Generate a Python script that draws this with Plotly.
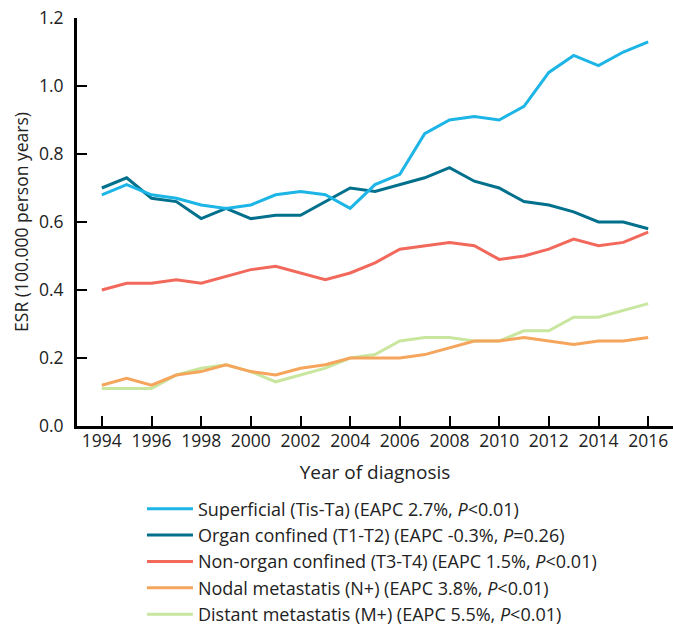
import plotly.graph_objects as go

years = list(range(1994, 2017))
superficial = [0.68, 0.71, 0.68, 0.67, 0.65, 0.64, 0.65, 0.68, 0.69, 0.68, 0.64, 0.71, 0.74, 0.86, 0.90, 0.91, 0.90, 0.94, 1.04, 1.09, 1.06, 1.10, 1.13]
organ_confined = [0.70, 0.73, 0.67, 0.66, 0.61, 0.64, 0.61, 0.62, 0.62, 0.66, 0.70, 0.69, 0.71, 0.73, 0.76, 0.72, 0.70, 0.66, 0.65, 0.63, 0.60, 0.60, 0.58]
non_organ = [0.40, 0.42, 0.42, 0.43, 0.42, 0.44, 0.46, 0.47, 0.45, 0.43, 0.45, 0.48, 0.52, 0.53, 0.54, 0.53, 0.49, 0.50, 0.52, 0.55, 0.53, 0.54, 0.57]
nodal = [0.12, 0.14, 0.12, 0.15, 0.16, 0.18, 0.16, 0.15, 0.17, 0.18, 0.20, 0.20, 0.20, 0.21, 0.23, 0.25, 0.25, 0.26, 0.25, 0.24, 0.25, 0.25, 0.26]
distant = [0.11, 0.11, 0.11, 0.15, 0.17, 0.18, 0.16, 0.13, 0.15, 0.17, 0.20, 0.21, 0.25, 0.26, 0.26, 0.25, 0.25, 0.28, 0.28, 0.32, 0.32, 0.34, 0.36]

names = [
    "Superficial (Tis-Ta) (EAPC 2.7%, <i>P</i><0.01)",
    "Organ confined (T1-T2) (EAPC -0.3%, <i>P</i>=0.26)",
    "Non-organ confined (T3-T4) (EAPC 1.5%, <i>P</i><0.01)",
    "Nodal metastatis (N+) (EAPC 3.8%, <i>P</i><0.01)",
    "Distant metastatis (M+) (EAPC 5.5%, <i>P</i><0.01)",
]
colors = ["#1cb5e6", "#00708c", "#f2695c", "#f5a55c", "#c8e69e"]
series = [superficial, organ_confined, non_organ, nodal, distant]

y_ticks = [0, 0.2, 0.4, 0.6, 0.8, 1.0, 1.2]
y_ticktext = ["0.0", "0.2", "0.4", "0.6", "0.8", "1.0", "1.2"]
x_ticks = list(range(1994, 2017, 2))

fig = go.Figure()
for i in reversed(range(5)):
    fig.add_trace(go.Scatter(
        x=years, y=series[i], mode="lines", name=names[i],
        line=dict(color=colors[i], width=3), legendrank=i + 1,
    ))

font_family = "Open Sans, Lato, sans-serif"
fig.update_layout(
    width=673, height=627,
    margin=dict(l=77, r=0, t=18, b=201, autoexpand=False),
    paper_bgcolor="white", plot_bgcolor="white",
    font=dict(family=font_family, size=18, color="#222"),
    showlegend=True,
    legend=dict(
        orientation="v", x=0.109, y=-0.158, xanchor="left", yanchor="top",
        font=dict(size=18, color="#222"), tracegroupgap=0, itemwidth=46,
        traceorder="normal",
    ),
    xaxis=dict(
        range=[1993, 2017], tickmode="array", tickvals=x_ticks,
        ticks="inside", ticklen=10, tickwidth=2, tickcolor="black",
        showline=True, linecolor="black", linewidth=3, showgrid=False, zeroline=False,
        title=dict(text="Year of diagnosis", font=dict(size=19), standoff=15),
        tickfont=dict(size=17.5), automargin=False, ticklabelstandoff=-3,
    ),
    yaxis=dict(
        range=[0, 1.2], tickmode="array", tickvals=y_ticks, ticktext=y_ticktext,
        ticks="inside", ticklen=10, tickwidth=2, tickcolor="black",
        showline=True, linecolor="black", linewidth=3, showgrid=False, zeroline=False,
        title=dict(text="ESR (100.000 person years)", font=dict(size=17.5), standoff=6),
        tickfont=dict(size=17.5), automargin=False, ticklabelstandoff=7,
    ),
)
fig.write_html("out.html", config={"displayModeBar": False},
               post_script="document.body.style.margin='0';")
